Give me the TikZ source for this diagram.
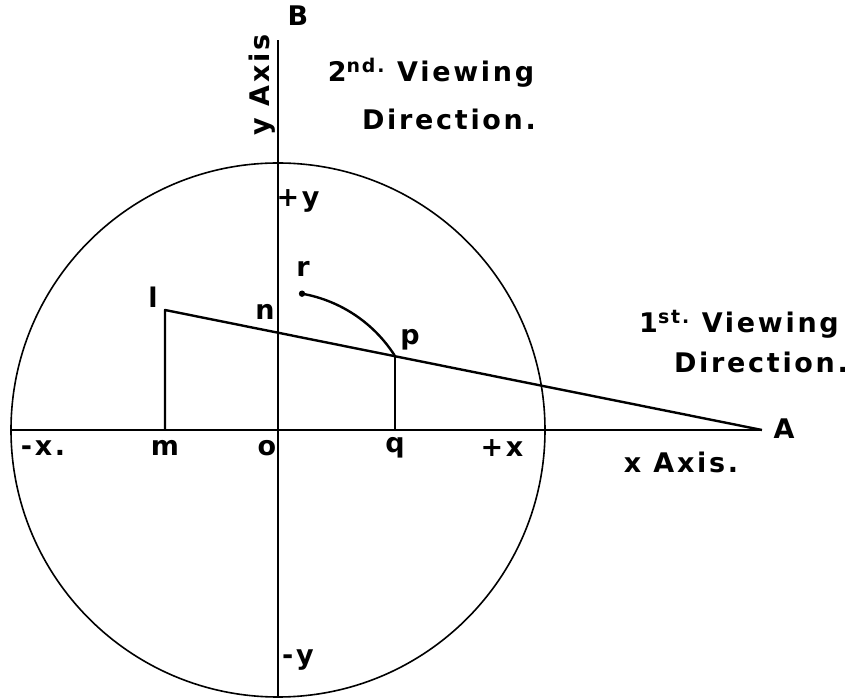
\documentclass[tikz,border=0pt]{standalone}
\usepackage{fontspec}
\newfontfamily\lettering[LetterSpace=10]{DejaVu Sans}
\usetikzlibrary{calc}
\tikzset{
    lbl/.style={font=\lettering\bfseries\fontsize{27}{31}\selectfont, inner sep=0pt},
    axisline/.style={line width=1.6pt},
    mainline/.style={line width=2.4pt, line join=round}
}

\begin{document}
\begin{tikzpicture}[x=1pt, y=1pt]
    \useasboundingbox (-278,-268) rectangle (569,430);
    % Centre, axes and outer circle
    \coordinate (o) at (0,0);
    \coordinate (xl) at (-267,0);
    \coordinate (A) at (484,0);
    \coordinate (B) at (0,390);
    \coordinate (yb) at (0,-268);
    \draw[axisline] (o) circle[radius=267];
    \draw[axisline] (xl) -- (A);
    \draw[axisline] (yb) -- (B);

    % Construction points
    \coordinate (l) at (-113,120);
    \coordinate (m) at (-113,0);
    \coordinate (q) at (117,0);
    \coordinate (qtop) at (117,200);
    \coordinate (n) at (intersection of l--A and o--B);
    \coordinate (p) at (intersection of l--A and q--qtop);
    \coordinate (r) at (80:138.4);

    % Line from l to A, projections and the swung arc
    \draw[mainline] (m) -- (l) -- (A);
    \draw[axisline] (q) -- (p);
    \draw[mainline] (r) arc[start angle=80, end angle=32.3, radius=138.4];
    \fill (r) circle (3.2);

    % Point labels
    \node[lbl] (Blbl) at (20,414) {B};
    \node[lbl] (Albl) at (506,1) {A};
    \node[lbl] (llbl) at (-125,133) {l};
    \node[lbl] (nlbl) at (-13,118) {n};
    \node[lbl] (plbl) at (132,90) {p};
    \node[lbl] (rlbl) at (25,161) {r};
    \node[lbl] (mlbl) at (-113,-18) {m};
    \node[lbl] (olbl) at (-11,-18) {o};
    \node[lbl] (qlbl) at (117,-18) {q};

    % Axis labels
    \node[lbl] (xneg) at (-235,-18) {-x.};
    \node[lbl] (xpos) at (224,-18) {+x};
    \node[lbl] (ypos) at (20,229) {+y};
    \node[lbl] (yneg) at (20,-230) {-y};
    \node[lbl] (xaxis) at (403,-32) {x Axis.};
    \node[lbl, rotate=90] (yaxis) at (-16,345) {y Axis};

    % Viewing directions
    \node[lbl] (view2) at (153,357) {2\textsuperscript{nd.} Viewing};
    \node[lbl] (dir2) at (171,311) {Direction.};
    \node[lbl] (view1) at (461,106) {1\textsuperscript{st.} Viewing};
    \node[lbl] (dir1) at (483,68) {Direction.};
\end{tikzpicture}
\end{document}
